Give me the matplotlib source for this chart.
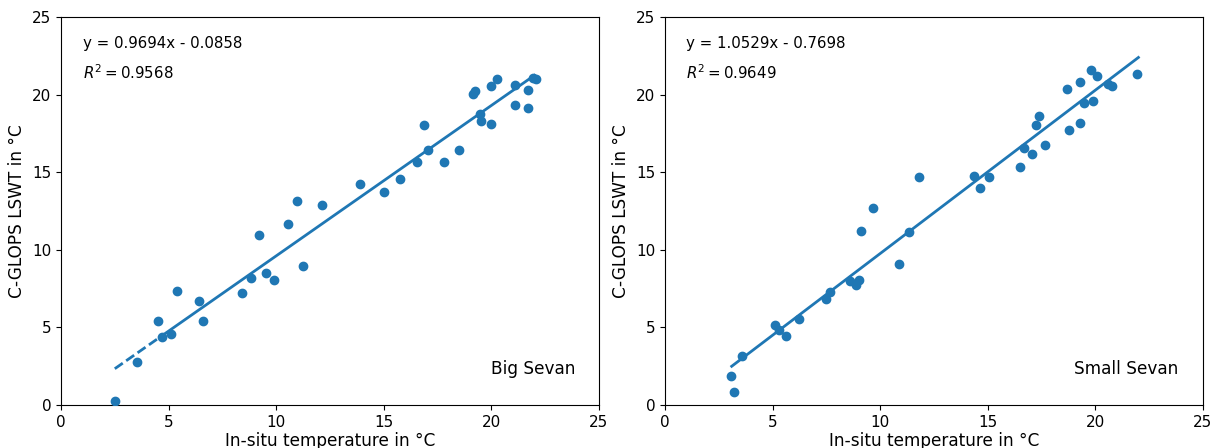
import matplotlib
matplotlib.use("Agg")
import matplotlib.pyplot as plt
import numpy as np

# Big Sevan: in-situ vs C-GLOPS LSWT
big_insitu = [2.52, 3.54, 4.52, 4.71, 5.13, 5.41, 6.39, 6.58, 8.40, 8.82, 9.19, 9.51,
              9.89, 10.54, 10.96, 11.24, 12.13, 13.90, 14.99, 15.76, 16.54, 16.85,
              17.06, 17.80, 18.50, 19.16, 19.25, 19.46, 19.50, 19.98, 19.98, 20.27,
              21.11, 21.11, 21.72, 21.72, 21.95, 22.05]
big_lswt = [0.26, 2.77, 5.41, 4.38, 4.57, 7.35, 6.70, 5.41, 7.22, 8.18, 10.95, 8.50,
            8.05, 11.66, 13.14, 8.96, 12.89, 14.24, 13.70, 14.58, 15.66, 18.06,
            16.43, 15.66, 16.43, 20.04, 20.25, 18.75, 18.28, 20.53, 18.13, 21.00,
            20.62, 19.35, 20.32, 19.16, 21.05, 20.98]
big_slope, big_icpt, big_r2 = 0.9694, -0.0858, 0.9568
big_dash_x = [2.5, 4.7]
big_solid_x = [4.7, 22.0]

# Small Sevan
small_insitu = [3.09, 3.19, 3.58, 5.11, 5.31, 5.61, 6.21, 7.48, 7.68, 8.59, 8.90, 9.01,
                9.10, 9.69, 10.87, 11.36, 11.81, 14.36, 14.65, 15.04, 16.48, 16.67,
                17.07, 17.26, 17.38, 17.64, 18.69, 18.78, 19.29, 19.29, 19.48, 19.78,
                19.87, 20.07, 20.57, 20.77, 21.94]
small_lswt = [1.85, 0.82, 3.14, 5.13, 4.81, 4.45, 5.54, 6.85, 7.26, 8.01, 7.71, 8.05,
              11.21, 12.71, 9.10, 11.17, 14.67, 14.77, 13.96, 14.67, 15.34, 16.58,
              16.15, 18.06, 18.62, 16.77, 20.34, 17.72, 20.81, 18.19, 19.44, 21.57,
              19.57, 21.22, 20.68, 20.57, 21.31]
small_slope, small_icpt, small_r2 = 1.0529, -0.7698, 0.9649
small_fit_x = [3.1, 22.0]

color = '#1f77b4'
fig = plt.figure(figsize=(12.15, 4.48), dpi=100)
ax1 = fig.add_axes([0.0502, 0.096, 0.4428, 0.866])
ax2 = fig.add_axes([0.5473, 0.096, 0.4428, 0.866])


def draw(ax, xs, ys, slope, icpt, r2, name, name_x):
    ax.scatter(xs, ys, s=36, color=color, zorder=3)
    ax.set_xlim(0, 25)
    ax.set_ylim(0, 25)
    ax.set_xticks([0, 5, 10, 15, 20, 25])
    ax.set_yticks([0, 5, 10, 15, 20, 25])
    ax.tick_params(labelsize=11)
    ax.set_xlabel('In-situ temperature in °C', fontsize=12.2, labelpad=2)
    ax.set_ylabel('C-GLOPS LSWT in °C', fontsize=12.2)
    sign = '-' if icpt < 0 else '+'
    ax.text(1, 23, 'y = %.4fx %s %.4f' % (slope, sign, abs(icpt)), fontsize=10.8)
    ax.text(1, 21, '$R^2 = $%.4f' % r2, fontsize=10.8)
    ax.text(name_x, 2, name, fontsize=12.2)


draw(ax1, big_insitu, big_lswt, big_slope, big_icpt, big_r2, 'Big Sevan', 20)
bx = np.array(big_dash_x)
ax1.plot(bx, big_slope * bx + big_icpt, color=color, lw=2, ls=(0, (3.5, 1.5)))
bx = np.array(big_solid_x)
ax1.plot(bx, big_slope * bx + big_icpt, color=color, lw=2)

draw(ax2, small_insitu, small_lswt, small_slope, small_icpt, small_r2, 'Small Sevan', 19)
sx = np.array(small_fit_x)
ax2.plot(sx, small_slope * sx + small_icpt, color=color, lw=2)

fig.savefig('out.png', dpi=100)
